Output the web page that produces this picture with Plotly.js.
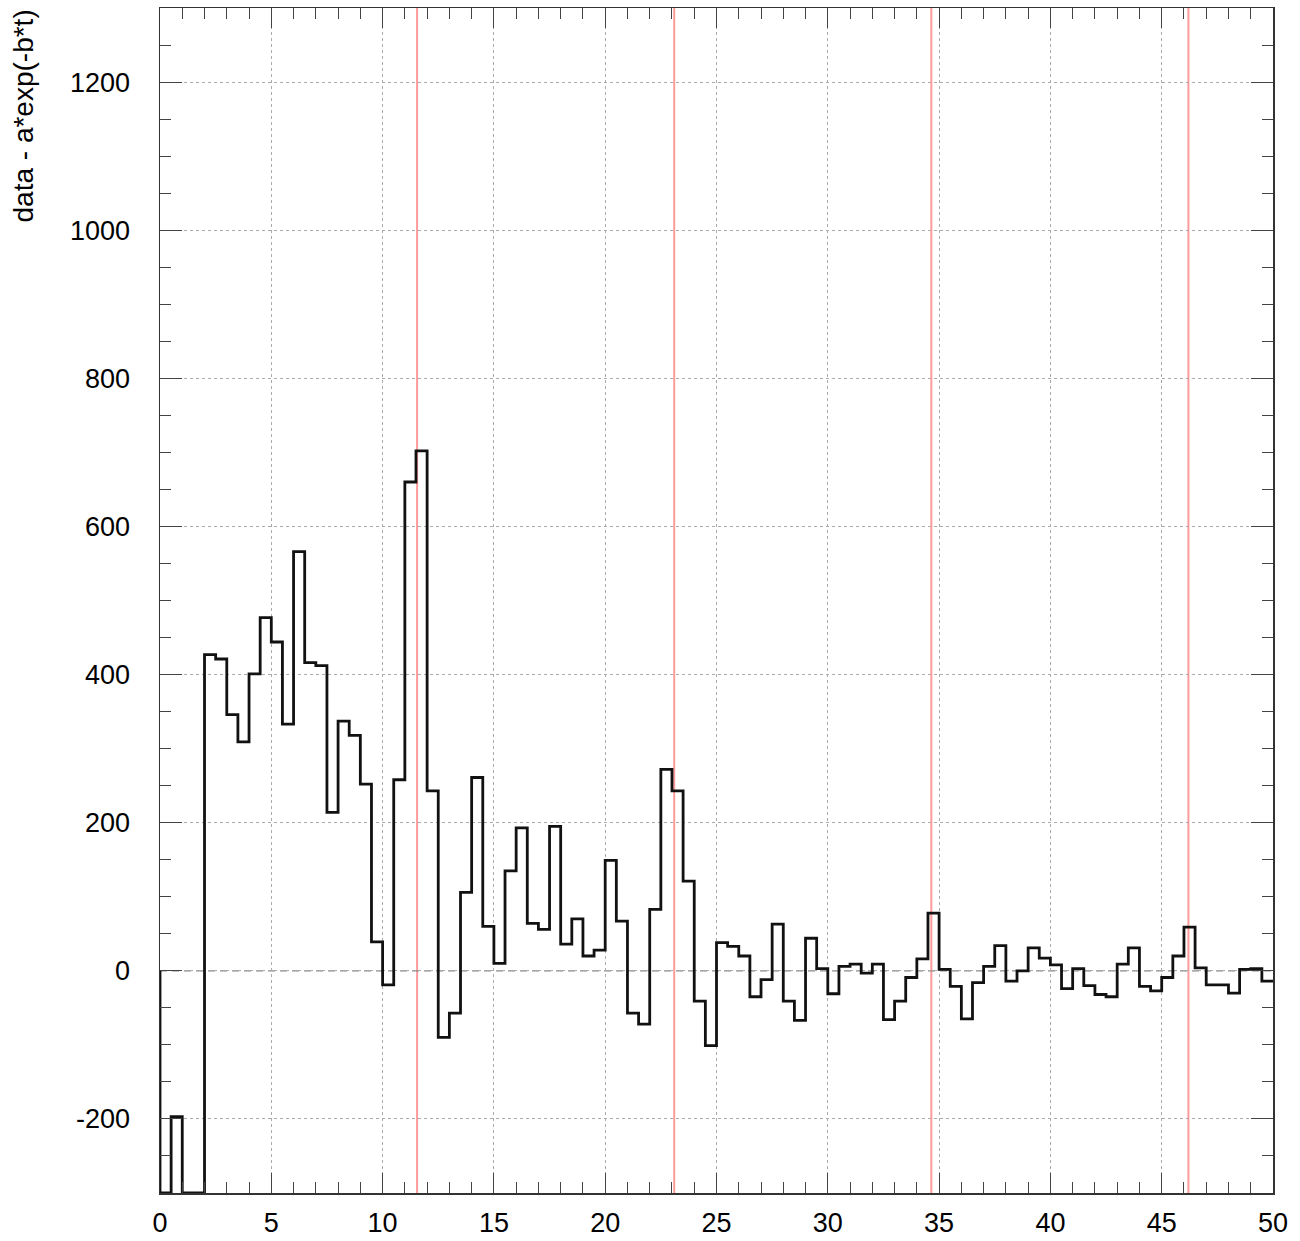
<!DOCTYPE html>
<html>
<head>
<meta charset="utf-8">
<script src="https://cdn.plot.ly/plotly-3.0.1.min.js"></script>
<style>
html,body{margin:0;padding:0;background:#fff;}
#chart{width:1300px;height:1241px;}
</style>
</head>
<body>
<div id="chart"></div>
<script>
// Histogram: 100 bins of width 0.5 from 0 to 50 (values below -300 are off-scale)
const binStart = 0;
const binWidth = 0.5;
const binValues = [
  -350, -197, -350, -350, 427, 421, 346, 309, 401, 477,
   444,  333,  566,  416, 412, 214, 337, 318, 252,  39,
   -19,  258,  660,  702, 243, -90, -57, 106, 261,  60,
    10,  135,  193,   64,  56, 195,  36,  70,  20,  28,
   149,   67,  -57,  -72,  83, 272, 243, 121, -41, -101,
    38,   33,   20,  -35, -12,  63, -41, -67,  44,   3,
   -31,    6,    9,   -3,   9, -66, -41,  -9,  16,  78,
     2,  -21,  -65,  -16,   6,  34, -14,   0,  31,  17,
     8,  -24,    3,  -20, -32, -35,   9,  31, -21, -27,
    -9,   20,   59,    4, -19, -19, -30,   2,   3, -14
];
// Marker positions (red vertical lines)
const markerPositions = [11.55, 23.1, 34.65, 46.2];

const xTickVals = [0, 5, 10, 15, 20, 25, 30, 35, 40, 45, 50];
const yTickVals = [-200, 0, 200, 400, 600, 800, 1000, 1200];
const xRange = [0, 50];
const yRange = [-300, 1300];
const yTitle = 'data - a*exp(-b*t)';

// Build step outline (ROOT-like): start at baseline, clamp off-scale values to frame
const xs = [binStart];
const ys = [0];
binValues.forEach((v, i) => {
  xs.push(binStart + i * binWidth);
  ys.push(Math.max(v, yRange[0]));
});
xs.push(binStart + binValues.length * binWidth);
ys.push(Math.max(binValues[binValues.length - 1], yRange[0]));

const trace = {
  type: 'scatter',
  mode: 'lines',
  x: xs,
  y: ys,
  line: {shape: 'hv', color: '#111', width: 2.8},
  hoverinfo: 'skip'
};

const shapes = markerPositions.map(p => ({
  type: 'line', xref: 'x', yref: 'paper', x0: p, x1: p, y0: 0, y1: 1,
  line: {color: 'rgba(255,120,120,0.75)', width: 2}, layer: 'below'
}));
// dashed zero line
shapes.push({
  type: 'line', xref: 'paper', yref: 'y', x0: 0, x1: 1, y0: 0, y1: 0,
  line: {color: '#888', width: 1.3, dash: '7px,5px'}, layer: 'below'
});

const tickFont = {family: 'Liberation Sans, Arial, sans-serif', size: 27, color: '#000'};

const layout = {
  width: 1300,
  height: 1241,
  margin: {l: 160, r: 27, t: 8, b: 48},
  paper_bgcolor: '#fff',
  plot_bgcolor: '#fff',
  showlegend: false,
  xaxis: {
    range: xRange,
    tickvals: xTickVals,
    ticktext: xTickVals.map(String),
    ticks: 'inside',
    ticklen: 20,
    tickwidth: 1,
    tickcolor: '#444',
    showline: true,
    linecolor: '#333',
    linewidth: 1.5,
    mirror: 'allticks',
    showgrid: true,
    gridcolor: '#aaa',
    gridwidth: 1,
    griddash: 'dot',
    zeroline: false,
    tickfont: tickFont,
    ticklabelstandoff: 5,
    minor: {dtick: 1, ticks: 'inside', ticklen: 11, tickcolor: '#444', tickwidth: 1, showgrid: false}
  },
  yaxis: {
    range: yRange,
    tickvals: yTickVals,
    ticktext: yTickVals.map(String),
    ticks: 'inside',
    ticklen: 22,
    tickwidth: 1,
    tickcolor: '#444',
    showline: true,
    linecolor: '#333',
    linewidth: 1.5,
    mirror: 'allticks',
    showgrid: true,
    gridcolor: '#aaa',
    gridwidth: 1,
    griddash: '3px,3px',
    zeroline: false,
    tickfont: tickFont,
    ticklabelstandoff: 23,
    minor: {dtick: 50, ticks: 'inside', ticklen: 11, tickcolor: '#444', tickwidth: 1, showgrid: false}
  },
  shapes: shapes,
  annotations: [{
    text: yTitle,
    xref: 'paper', yref: 'paper',
    x: -137 / 1113, y: 1,
    xanchor: 'center', yanchor: 'top',
    textangle: -90,
    showarrow: false,
    font: {family: 'Liberation Sans, Arial, sans-serif', size: 28, color: '#000'}
  }]
};

Plotly.newPlot('chart', [trace], layout, {displayModeBar: false, staticPlot: true});
</script>
</body>
</html>
